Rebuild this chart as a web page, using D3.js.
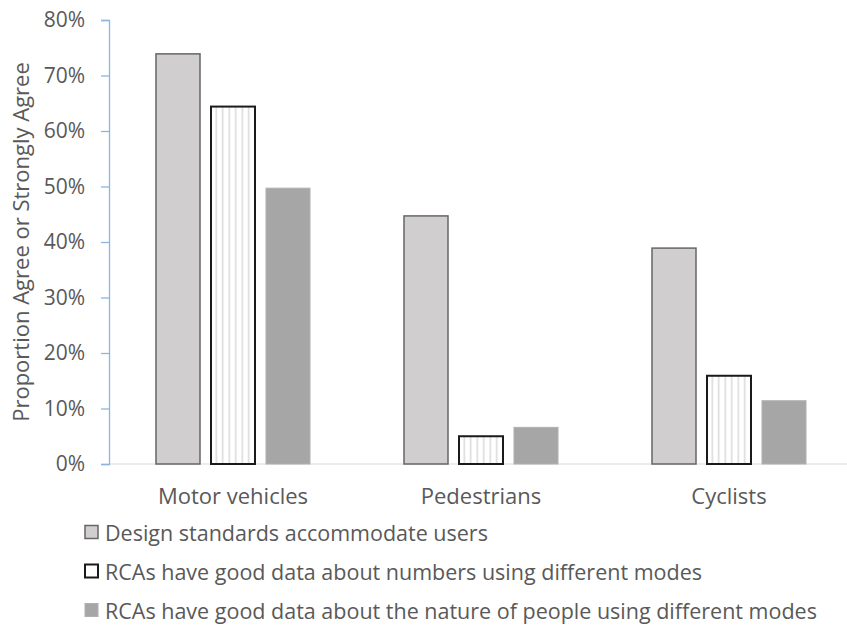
<!DOCTYPE html>
<html>
<head>
<meta charset="utf-8">
<script src="https://cdn.jsdelivr.net/npm/d3@7"></script>
<style>
  html, body { margin: 0; padding: 0; background: #fff; }
  svg { display: block; }
  text { font-family: "Open Sans", "Liberation Sans", sans-serif; fill: #595959; }
</style>
</head>
<body>
<svg id="chart" width="847" height="626"></svg>
<script>
// Survey response shares by road-user group
const categories = ["Motor vehicles", "Pedestrians", "Cyclists"];
const seriesNames = [
  "Design standards accommodate users",
  "RCAs have good data about numbers using different modes",
  "RCAs have good data about the nature of people using different modes"
];
const designStandards = [0.739, 0.447, 0.389];
const dataNumbers     = [0.644, 0.050, 0.159];
const dataNature      = [0.497, 0.066, 0.114];
const yTicks = [0, 0.1, 0.2, 0.3, 0.4, 0.5, 0.6, 0.7, 0.8];

const seriesValues = [designStandards, dataNumbers, dataNature];

const svg = d3.select("#chart");
const margin = { left: 109, top: 20, right: -6, bottom: 162 };
const W = 847, H = 626;

// pattern for the striped series
const defs = svg.append("defs");
const pat = defs.append("pattern")
  .attr("id", "vstripes")
  .attr("patternUnits", "userSpaceOnUse")
  .attr("width", 6.5).attr("height", 10);
pat.append("rect").attr("width", 6.5).attr("height", 10).attr("fill", "#fff");
pat.append("rect").attr("x", 2.5).attr("width", 1.5).attr("height", 10).attr("fill", "#d9d9d9");

const styles = [
  { fill: "#d0cece", stroke: "#666666", sw: 1.5 },
  { fill: "url(#vstripes)", stroke: "#1a1a1a", sw: 2 },
  { fill: "#a6a6a6", stroke: "#b0b0b0", sw: 1 }
];

const x0 = d3.scaleBand()
  .domain(categories)
  .range([margin.left, W - margin.right])
  .paddingInner(0)
  .paddingOuter(0);

const x1 = d3.scaleBand()
  .domain(d3.range(seriesNames.length))
  .range([47, x0.bandwidth() - 47])
  .paddingInner(0.2);

const y = d3.scaleLinear()
  .domain([0, 0.8])
  .range([H - margin.bottom, margin.top]);

// baseline
svg.append("line")
  .attr("x1", margin.left).attr("x2", W)
  .attr("y1", y(0)).attr("y2", y(0))
  .attr("stroke", "#d9d9d9").attr("stroke-width", 1.2);

// bars
categories.forEach((cat, ci) => {
  const g = svg.append("g").attr("transform", `translate(${x0(cat)},0)`);
  seriesValues.forEach((vals, si) => {
    const s = styles[si];
    g.append("rect")
      .attr("x", x1(si))
      .attr("y", y(vals[ci]))
      .attr("width", x1.bandwidth())
      .attr("height", y(0) - y(vals[ci]))
      .attr("fill", s.fill)
      .attr("stroke", s.stroke)
      .attr("stroke-width", s.sw);
  });
});

// y axis
const yAxis = d3.axisLeft(y)
  .tickValues(yTicks)
  .tickFormat(d3.format(".0%"))
  .tickSize(8)
  .tickSizeOuter(8);
const ya = svg.append("g")
  .attr("transform", `translate(${margin.left},0)`)
  .call(yAxis);
ya.select(".domain").attr("stroke", "#8db4e2").attr("stroke-width", 1.3);
ya.selectAll(".tick line").attr("stroke", "#8db4e2").attr("stroke-width", 1.3);
ya.selectAll(".tick text")
  .attr("x", -24)
  .style("font-size", "21px")
  .style("font-family", "'Open Sans', sans-serif")
  .attr("fill", "#595959");

// y axis title
svg.append("text")
  .attr("transform", `translate(20,${(y(0) + y(0.8)) / 2}) rotate(-90)`)
  .attr("text-anchor", "middle")
  .attr("dominant-baseline", "central")
  .style("font-size", "22px")
  .text("Proportion Agree or Strongly Agree");

// category labels
svg.append("g").selectAll("text")
  .data(categories)
  .join("text")
  .attr("x", d => x0(d) + x0.bandwidth() / 2)
  .attr("y", y(0) + 40)
  .attr("text-anchor", "middle")
  .style("font-size", "22px")
  .text(d => d);

// legend
const legend = svg.append("g");
seriesNames.forEach((name, i) => {
  const ly = 532 + i * 39;
  const s = styles[i];
  legend.append("rect")
    .attr("x", 85).attr("y", ly - 6.5)
    .attr("width", 13).attr("height", 13)
    .attr("fill", i === 1 ? "#fff" : s.fill)
    .attr("stroke", s.stroke)
    .attr("stroke-width", s.sw);
  legend.append("text")
    .attr("x", 105).attr("y", ly)
    .attr("dominant-baseline", "central")
    .style("font-size", "21.5px")
    .text(name);
});
</script>
</body>
</html>
